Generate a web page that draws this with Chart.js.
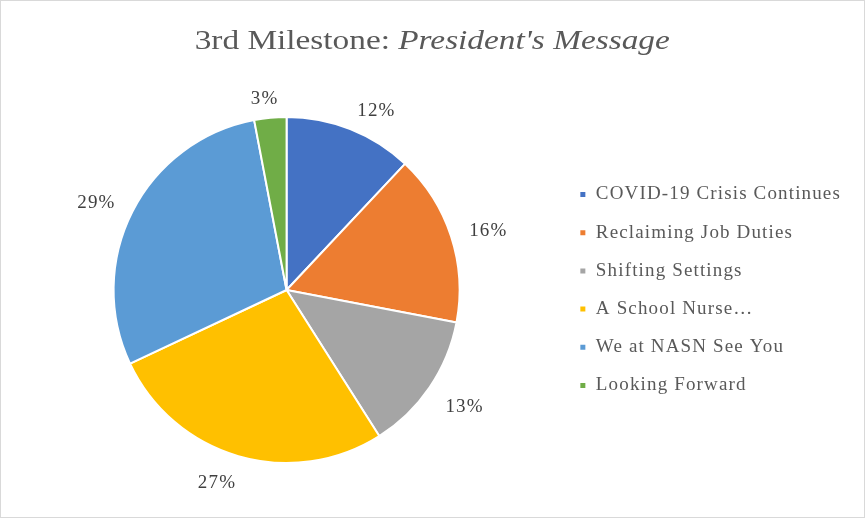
<!DOCTYPE html>
<html>
<head>
<meta charset="utf-8">
<script src="https://cdn.jsdelivr.net/npm/chart.js@4.4.1/dist/chart.umd.min.js"></script>
<style>
  html, body { margin: 0; padding: 0; background: #fff; }
  #wrap { position: relative; width: 865px; height: 518px; }
  #frame { position: absolute; left: 0; top: 0; width: 863px; height: 516px; border: 1px solid #d9d9d9; pointer-events: none; }
  #title { position: absolute; left: 0; top: 26px; width: 865px; text-align: center; line-height: 28px;
           font-family: "Liberation Serif", "Times New Roman", serif; font-size: 28px; color: #595959; white-space: nowrap;
           transform: scaleX(1.19); transform-origin: 434px 0; }
  canvas { position: absolute; left: 0; top: 0; }
</style>
</head>
<body>
<div id="wrap">
  <canvas id="c" width="865" height="518"></canvas>
  <div id="title">3rd Milestone: <i>President's Message</i></div>
  <div id="frame"></div>
</div>
<script>
const categories = ["COVID-19 Crisis Continues", "Reclaiming Job Duties", "Shifting Settings", "A School Nurse\u2026", "We at NASN See You", "Looking Forward"];
const shares = [12, 16, 13, 27, 29, 3];
const sliceColors = ["#4472C4", "#ED7D31", "#A5A5A5", "#FFC000", "#5B9BD5", "#70AD47"];

const SPACING = '1.15px';
const spacingPlugin = {
  id: 'spacing',
  beforeLayout(chart) { chart.ctx.letterSpacing = SPACING; },
  beforeDraw(chart) { chart.ctx.letterSpacing = SPACING; }
};

const labelPlugin = {
  id: 'outsideLabels',
  afterDatasetsDraw(chart) {
    const ctx = chart.ctx;
    const meta = chart.getDatasetMeta(0);
    const data = chart.data.datasets[0].data;
    const total = data.reduce((a, b) => a + b, 0);
    ctx.save();
    ctx.letterSpacing = SPACING;
    ctx.font = '19px "Liberation Serif", "Times New Roman", serif';
    ctx.fillStyle = '#404040';
    ctx.textAlign = 'center';
    ctx.textBaseline = 'middle';
    const clamp = v => Math.max(-1, Math.min(1, v));
    meta.data.forEach((arc, i) => {
      const p = arc.getProps(['x', 'y', 'startAngle', 'endAngle', 'outerRadius'], true);
      const mid = (p.startAngle + p.endAngle) / 2;
      const dx = Math.cos(mid), dy = Math.sin(mid);
      const txt = Math.round(data[i] / total * 100) + '%';
      const w = ctx.measureText(txt).width, h = 18;
      const d = p.outerRadius + 19;
      const x = p.x + dx * d + clamp(dx * 3) * w / 2;
      const y = p.y + dy * d + (dy > 0 ? clamp(dy * 3) * h / 2 : 0);
      ctx.fillText(txt, x, y);
    });
    ctx.restore();
  }
};

new Chart(document.getElementById('c'), {
  type: 'pie',
  data: {
    labels: categories,
    datasets: [{
      data: shares,
      backgroundColor: sliceColors,
      borderColor: '#ffffff',
      borderWidth: 2
    }]
  },
  options: {
    responsive: false,
    animation: false,
    layout: { padding: { top: 116, bottom: 54, left: 13, right: 14 } },
    plugins: {
      title: { display: false },
      tooltip: { enabled: false },
      legend: {
        position: 'right',
        align: 'center',
        labels: {
          boxWidth: 7,
          boxHeight: 7,
          padding: 19.2,
          color: '#595959',
          font: { family: '"Liberation Serif", "Times New Roman", serif', size: 19, lineHeight: 1.2 }
        }
      }
    }
  },
  plugins: [spacingPlugin, labelPlugin]
});
</script>
</body>
</html>
